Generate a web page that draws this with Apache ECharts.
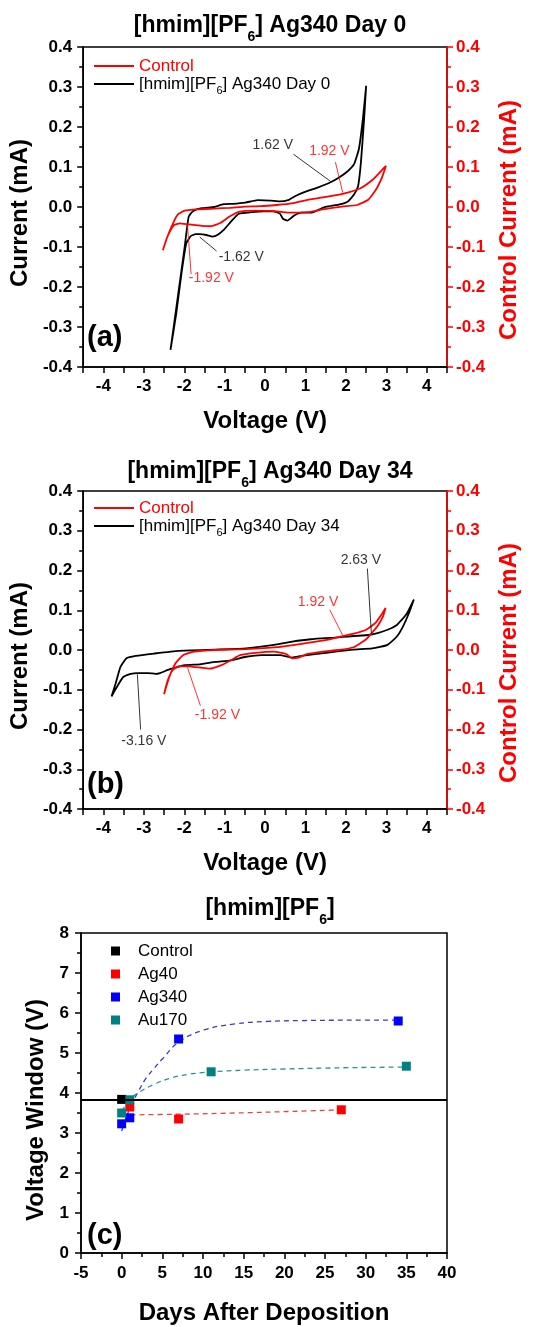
<!DOCTYPE html>
<html>
<head>
<meta charset="utf-8">
<script src="https://cdn.jsdelivr.net/npm/echarts@6/dist/echarts.min.js"></script>
<style>
  html, body { margin: 0; padding: 0; background: #fff; }
  #chart { width: 560px; height: 1327px; }
</style>
</head>
<body>
<div id="chart"></div>
<script>
// ---- Cyclic voltammograms: [voltage (V), current (mA)] in sweep order ----
// Panel (a): Ag340 electrode, day 0
const ag340Day0 = [
  [-2.34,-0.357],[-2.15,-0.218],[-1.99,-0.100],[-1.89,-0.024],[-1.78,-0.010],[-1.57,-0.003],
  [-1.26,0.000],[-1.03,0.007],[-0.80,0.008],[-0.49,0.011],[-0.18,0.017],[0.13,0.016],[0.36,0.014],
  [0.59,0.018],[0.74,0.027],[0.97,0.037],[1.28,0.048],[1.62,0.062],[1.82,0.073],[2.05,0.090],
  [2.20,0.107],[2.32,0.145],[2.42,0.221],[2.50,0.303],
  [2.45,0.221],[2.37,0.111],[2.30,0.052],[2.20,0.031],[2.05,0.014],[1.82,0.006],[1.51,0.001],
  [1.32,-0.007],[1.16,-0.014],[0.89,-0.014],[0.74,-0.020],[0.66,-0.026],[0.55,-0.034],[0.45,-0.030],
  [0.36,-0.016],[0.20,-0.011],[-0.03,-0.011],[-0.34,-0.013],[-0.65,-0.017],[-0.84,-0.036],
  [-1.03,-0.058],[-1.18,-0.070],[-1.30,-0.074],[-1.45,-0.070],[-1.62,-0.068],[-1.72,-0.068],
  [-1.84,-0.073],[-1.95,-0.091],[-2.07,-0.167],[-2.20,-0.268],[-2.34,-0.357]
];
// Panel (a): bare control electrode
const controlA = [
  [-2.53,-0.108],[-2.42,-0.075],[-2.26,-0.037],[-2.15,-0.018],[-1.99,-0.009],[-1.65,-0.006],
  [-1.26,-0.004],[-0.88,-0.002],[-0.49,0.001],[-0.11,0.002],[0.28,0.005],[0.66,0.009],[1.05,0.018],
  [1.43,0.024],[1.92,0.033],[2.36,0.047],[2.66,0.068],[2.86,0.089],[2.99,0.103],
  [2.90,0.076],[2.74,0.043],[2.55,0.018],[2.28,0.005],[1.90,0.001],[1.43,-0.006],[1.13,-0.012],
  [0.82,-0.014],[0.59,-0.014],[0.20,-0.010],[-0.26,-0.009],[-0.65,-0.012],[-0.88,-0.024],
  [-1.11,-0.040],[-1.34,-0.048],[-1.57,-0.047],[-1.92,-0.043],[-2.11,-0.041],[-2.26,-0.046],
  [-2.42,-0.075],[-2.53,-0.108]
];
// Panel (b): Ag340 electrode, day 34
const ag340Day34 = [
  [-3.80,-0.117],[-3.70,-0.085],[-3.58,-0.043],[-3.43,-0.021],[-3.20,-0.015],[-2.75,-0.009],
  [-2.14,-0.002],[-1.23,0.001],[-0.47,0.004],[0.22,0.013],[0.67,0.021],[1.13,0.027],[1.81,0.032],
  [2.63,0.039],[3.03,0.051],[3.26,0.063],[3.49,0.089],[3.68,0.127],
  [3.56,0.093],[3.41,0.059],[3.26,0.034],[3.03,0.013],[2.65,0.004],[2.19,0.001],[1.74,-0.004],
  [1.28,-0.010],[0.90,-0.015],[0.67,-0.019],[0.37,-0.013],[-0.09,-0.013],[-0.47,-0.017],
  [-0.85,-0.026],[-1.23,-0.030],[-1.61,-0.036],[-1.99,-0.038],[-2.37,-0.049],[-2.60,-0.058],
  [-2.71,-0.060],[-2.90,-0.058],[-3.16,-0.058],[-3.32,-0.060],[-3.51,-0.068],[-3.62,-0.085],
  [-3.74,-0.106],[-3.80,-0.117]
];
// Panel (b): bare control electrode
const controlB = [
  [-2.50,-0.111],[-2.37,-0.068],[-2.22,-0.034],[-2.03,-0.013],[-1.76,-0.004],[-1.23,0.000],
  [-0.47,0.002],[0.29,0.007],[1.05,0.018],[1.59,0.027],[1.92,0.035],[2.19,0.041],[2.50,0.051],
  [2.73,0.068],[2.88,0.089],[2.98,0.106],
  [2.92,0.085],[2.80,0.063],[2.65,0.044],[2.50,0.027],[2.19,0.007],[1.81,0.000],[1.43,-0.004],
  [1.05,-0.010],[0.83,-0.019],[0.67,-0.021],[0.52,-0.010],[0.22,-0.004],[-0.24,-0.007],
  [-0.62,-0.013],[-0.85,-0.026],[-1.08,-0.038],[-1.38,-0.047],[-1.61,-0.044],[-1.92,-0.041],
  [-2.14,-0.041],[-2.29,-0.051],[-2.41,-0.077],[-2.50,-0.111]
];

// ---- Panel (c): electrochemical window vs. days after deposition ----
const controlDays = [0];          const controlWin = [3.84];
const ag40Days  = [1, 7, 27];     const ag40Win  = [3.65, 3.35, 3.58];
const ag340Days = [0, 1, 7, 34];  const ag340Win = [3.23, 3.38, 5.35, 5.80];
const au170Days = [0, 1, 11, 35]; const au170Win = [3.50, 3.83, 4.53, 4.67];
// trend curves through each electrode's points
const ag40FitDays  = [0, 7, 14, 21, 27];
const ag40FitWin   = [3.45, 3.47, 3.50, 3.54, 3.58];
const ag340FitDays = [0, 1, 2, 3, 4, 5, 7, 10, 14, 18, 22, 28, 34];
const ag340FitWin  = [3.05, 3.62, 4.02, 4.37, 4.62, 4.85, 5.27, 5.57, 5.73, 5.79, 5.81, 5.82, 5.82];
const au170FitDays = [0, 1, 2, 4, 6, 8, 11, 15, 20, 27, 35];
const au170FitWin  = [3.55, 3.83, 4.00, 4.22, 4.37, 4.46, 4.53, 4.57, 4.60, 4.63, 4.65];

// ---- Text ----
const legendLabels = {
  ctrlA: 'Control', cellA: '[hmim][PF{s|6}] Ag340 Day 0',
  ctrlB: 'Control', cellB: '[hmim][PF{s|6}] Ag340 Day 34',
  ctrlC: 'Control', ag40: 'Ag40', ag340: 'Ag340', au170: 'Au170'
};

const FONT = '"Liberation Sans", Arial, Helvetica, sans-serif';
const RED = '#ff0000';
const BLACK = '#000000';

const zip = (a, b) => a.map((v, i) => [v, b[i]]);

// Annotated potentials: label text, where the label sits and the arrow
const notesA = [
  { text: '1.62 V',  color: BLACK, pos: [0.19, 0.155],  from: [0.70, 0.132],   to: [1.62, 0.064] },
  { text: '1.92 V',  color: RED,   pos: [1.59, 0.139],  from: [1.74, 0.112],   to: [1.92, 0.036] },
  { text: '-1.62 V', color: BLACK, pos: [-0.59, -0.126],from: [-1.20, -0.110], to: [-1.62, -0.075] },
  { text: '-1.92 V', color: RED,   pos: [-1.33, -0.179],from: [-1.83, -0.168], to: [-1.92, -0.046] }
];
const notesB = [
  { text: '2.63 V',  color: BLACK, pos: [2.37, 0.226],  from: [2.53, 0.205],   to: [2.63, 0.041] },
  { text: '1.92 V',  color: RED,   pos: [1.31, 0.121],  from: [1.60, 0.101],   to: [1.92, 0.037] },
  { text: '-3.16 V', color: BLACK, pos: [-3.00, -0.230],from: [-3.08, -0.200], to: [-3.16, -0.061] },
  { text: '-1.92 V', color: RED,   pos: [-1.18, -0.163],from: [-1.60, -0.140], to: [-1.92, -0.044] }
];

const tickFont = { fontFamily: FONT, fontSize: 17, fontWeight: 'bold' };
const nameFont = { fontFamily: FONT, fontSize: 24, fontWeight: 'bold' };

function voltageAxis(gridIndex, nameGap) {
  return {
    type: 'value', gridIndex, min: -4.5, max: 4.5, interval: 0.5,
    name: 'Voltage (V)', nameLocation: 'middle', nameGap,
    nameTextStyle: Object.assign({ color: BLACK }, nameFont),
    axisLine: { onZero: false, lineStyle: { color: BLACK, width: 1.5 } },
    axisTick: { length: 6, lineStyle: { color: BLACK, width: 1.5 } },
    axisLabel: Object.assign({
      color: BLACK, margin: 11,
      formatter: v => Math.abs(v - Math.round(v)) < 1e-6 ? String(Math.round(v)) : ''
    }, tickFont),
    splitLine: { show: false }
  };
}

function currentAxis(gridIndex, side, name, color, nameGap, shift) {
  return {
    type: 'value', gridIndex, position: side, min: -0.4, max: 0.4, interval: 0.1,
    name, nameLocation: 'middle', nameGap,
    nameTextStyle: Object.assign({ color, padding: [0, shift, 0, 0] }, nameFont),
    axisLine: { show: true, onZero: false, lineStyle: { color, width: 1.5 } },
    axisTick: { show: true, length: 6, lineStyle: { color, width: 1.5 } },
    minorTick: { show: true, splitNumber: 2, length: 4, lineStyle: { color, width: 1.5 } },
    axisLabel: Object.assign({
      color, margin: side === 'left' ? 11 : 9,
      formatter: v => Math.abs(v) < 1e-9 ? '0.0' : v.toFixed(1)
    }, tickFont),
    splitLine: { show: false }, minorSplitLine: { show: false }
  };
}

function cvSeries(name, data, color, xi, yi, z) {
  return {
    type: 'line', name, data, xAxisIndex: xi, yAxisIndex: yi, z,
    symbol: 'none', smooth: 0.15, silent: true,
    lineStyle: { color, width: 1.8 }, itemStyle: { color }
  };
}

function noteSeries(notes, color, xi, yi) {
  const list = notes.filter(n => n.color === color);
  return {
    type: 'scatter', xAxisIndex: xi, yAxisIndex: yi, z: 6, silent: true,
    symbolSize: 1, itemStyle: { color: 'rgba(0,0,0,0)' },
    data: list.map(n => ({ value: n.pos, name: n.text })),
    label: { show: true, position: 'inside', formatter: '{b}', color, fontFamily: FONT, fontSize: 14 },
    markLine: {
      silent: true, symbol: ['none', 'arrow'], symbolSize: [0, 7], precision: 4,
      label: { show: false }, emphasis: { disabled: true },
      lineStyle: { color, width: 0.8, type: 'solid' }, itemStyle: { color },
      data: list.map(n => [{ coord: n.from }, { coord: n.to }])
    }
  };
}

// line-segment legend keys for the voltammograms
function cvLegend(top, ctrlName, cellName) {
  return {
    orient: 'vertical', left: 89, top, icon: 'rect', itemWidth: 40, itemHeight: 2, itemGap: -6,
    selectedMode: false,
    data: [{ name: ctrlName, textStyle: { color: RED } }, { name: cellName }],
    formatter: n => legendLabels[n],
    textStyle: {
      fontFamily: FONT, fontSize: 17, color: BLACK, lineHeight: 24,
      rich: { s: { fontFamily: FONT, fontSize: 11, lineHeight: 11, verticalAlign: 'bottom' } }
    }
  };
}

function dashedFit(days, win, color) {
  return {
    type: 'line', data: zip(days, win), xAxisIndex: 2, yAxisIndex: 4, z: 2,
    symbol: 'none', smooth: 0.4, silent: true,
    lineStyle: { color, width: 1.3, type: [5, 4] }
  };
}

function windowPoints(name, days, win, color, extra) {
  return Object.assign({
    type: 'scatter', name, data: zip(days, win), xAxisIndex: 2, yAxisIndex: 4, z: 4,
    symbol: 'rect', symbolSize: 9, silent: true, itemStyle: { color, opacity: 1 }
  }, extra || {});
}

function titleText(text, y) {
  return {
    type: 'text', x: 270, y, z: 10,
    style: {
      text, fill: BLACK, fontFamily: FONT, fontSize: 23, fontWeight: 'bold',
      align: 'center', verticalAlign: 'middle', lineHeight: 36,
      rich: { s: { fontFamily: FONT, fontSize: 14, fontWeight: 'bold', lineHeight: 14, verticalAlign: 'bottom' } }
    }
  };
}

function panelTag(text, y) {
  return {
    type: 'text', x: 87, y, z: 10,
    style: { text, fill: BLACK, fontFamily: FONT, fontSize: 29, fontWeight: 'bold', align: 'left', verticalAlign: 'middle' }
  };
}

const option = {
  animation: false,
  backgroundColor: '#ffffff',
  textStyle: { fontFamily: FONT },
  grid: [
    { left: 82, top: 47,  width: 365, height: 320, show: true, borderColor: BLACK, borderWidth: 1.5, backgroundColor: 'transparent' },
    { left: 82, top: 491, width: 365, height: 318, show: true, borderColor: BLACK, borderWidth: 1.5, backgroundColor: 'transparent' },
    { left: 81, top: 933, width: 366, height: 320, show: true, borderColor: BLACK, borderWidth: 1.5, backgroundColor: 'transparent' }
  ],
  xAxis: [
    voltageAxis(0, 42),
    voltageAxis(1, 42),
    {
      type: 'value', gridIndex: 2, min: -5, max: 40, interval: 5,
      name: 'Days After Deposition', nameLocation: 'middle', nameGap: 48,
      nameTextStyle: Object.assign({ color: BLACK }, nameFont),
      axisLine: { onZero: false, lineStyle: { color: BLACK, width: 1.5 } },
      axisTick: { length: 6, lineStyle: { color: BLACK, width: 1.5 } },
      minorTick: { show: true, splitNumber: 2, length: 4, lineStyle: { color: BLACK, width: 1.5 } },
      axisLabel: Object.assign({ color: BLACK, margin: 12 }, tickFont),
      splitLine: { show: false }, minorSplitLine: { show: false }
    }
  ],
  yAxis: [
    currentAxis(0, 'left', 'Current (mA)', BLACK, 46, 12),
    currentAxis(0, 'right', 'Control Current (mA)', RED, 50, 26),
    currentAxis(1, 'left', 'Current (mA)', BLACK, 46, 12),
    currentAxis(1, 'right', 'Control Current (mA)', RED, 50, 26),
    {
      type: 'value', gridIndex: 2, min: 0, max: 8, interval: 1,
      name: 'Voltage Window (V)', nameLocation: 'middle', nameGap: 30,
      nameTextStyle: Object.assign({ color: BLACK, padding: [0, 34, 0, 0] }, nameFont),
      axisLine: { show: true, onZero: false, lineStyle: { color: BLACK, width: 1.5 } },
      axisTick: { show: true, length: 6, lineStyle: { color: BLACK, width: 1.5 } },
      minorTick: { show: true, splitNumber: 2, length: 4, lineStyle: { color: BLACK, width: 1.5 } },
      axisLabel: Object.assign({ color: BLACK, margin: 12 }, tickFont),
      splitLine: { show: false }, minorSplitLine: { show: false }
    }
  ],
  legend: [
    cvLegend(49, 'ctrlA', 'cellA'),
    cvLegend(491, 'ctrlB', 'cellB'),
    {
      orient: 'vertical', left: 106, top: 936, icon: 'rect', itemWidth: 9, itemHeight: 9, itemGap: 3,
      selectedMode: false,
      data: ['ctrlC', 'ag40', 'ag340', 'au170'],
      formatter: n => legendLabels[n],
      textStyle: { fontFamily: FONT, fontSize: 17, color: BLACK, lineHeight: 20, padding: [0, 0, 0, 13] }
    }
  ],
  series: [
    // (a)
    cvSeries('cellA', ag340Day0, BLACK, 0, 0, 3),
    cvSeries('ctrlA', controlA, RED, 0, 1, 4),
    noteSeries(notesA, BLACK, 0, 0),
    noteSeries(notesA, RED, 0, 0),
    // (b)
    cvSeries('cellB', ag340Day34, BLACK, 1, 2, 3),
    cvSeries('ctrlB', controlB, RED, 1, 3, 4),
    noteSeries(notesB, BLACK, 1, 2),
    noteSeries(notesB, RED, 1, 2),
    // (c)
    dashedFit(ag40FitDays, ag40FitWin, '#e8473f'),
    dashedFit(ag340FitDays, ag340FitWin, '#3a3ad0'),
    dashedFit(au170FitDays, au170FitWin, '#2b948a'),
    windowPoints('ctrlC', controlDays, controlWin, BLACK, {
      markLine: {
        silent: true, symbol: 'none', label: { show: false }, emphasis: { disabled: true },
        lineStyle: { color: BLACK, width: 1.8, type: 'solid' },
        data: [{ yAxis: controlWin[0] }]
      }
    }),
    windowPoints('ag40', ag40Days, ag40Win, RED),
    windowPoints('ag340', ag340Days, ag340Win, '#0000ff'),
    windowPoints('au170', au170Days, au170Win, '#008080')
  ],
  graphic: [
    titleText('[hmim][PF{s|6}] Ag340 Day 0', 26),
    titleText('[hmim][PF{s|6}] Ag340 Day 34', 472),
    titleText('[hmim][PF{s|6}]', 909),
    panelTag('(a)', 338),
    panelTag('(b)', 785),
    panelTag('(c)', 1236)
  ]
};

const chart = echarts.init(document.getElementById('chart'), null, { renderer: 'canvas', width: 560, height: 1327 });
chart.setOption(option);
</script>
</body>
</html>
